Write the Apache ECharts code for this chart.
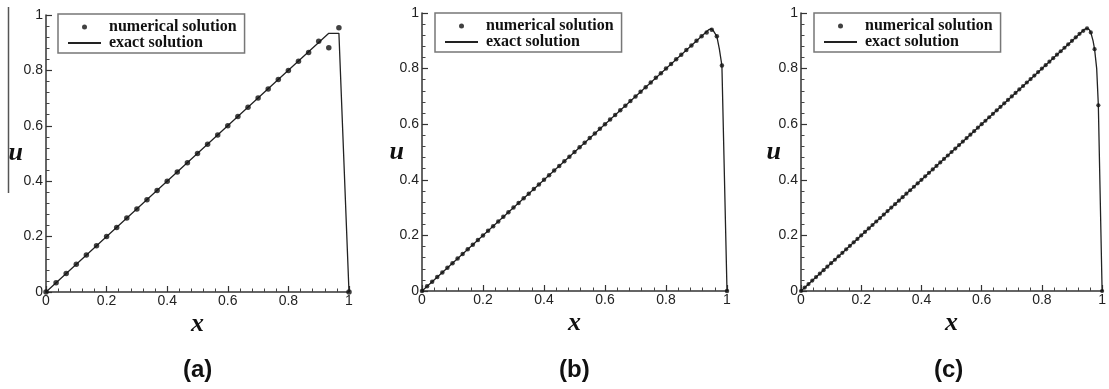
<!DOCTYPE html>
<html><head><meta charset="utf-8">
<script src="https://cdn.jsdelivr.net/npm/echarts@6/dist/echarts.min.js"></script>
<style>html,body{margin:0;padding:0;background:#fff}#c{width:1109px;height:389px}</style>
</head><body><div id="c"></div><script>
// ---- data ----
const panelLabels = ['(a)', '(b)', '(c)'];
const legendNames = ['numerical solution', 'exact solution'];

// panel (a): 30 cells
const aNumX = [0,0.0333,0.0667,0.1,0.1333,0.1667,0.2,0.2333,0.2667,0.3,0.3333,0.3667,0.4,0.4333,0.4667,0.5,0.5333,0.5667,0.6,0.6333,0.6667,0.7,0.7333,0.7667,0.8,0.8333,0.8667,0.9,0.9333,0.9667,1];
const aNumU = [0,0.0333,0.0667,0.1,0.1333,0.1667,0.2,0.2333,0.2667,0.3,0.3333,0.3667,0.4,0.4333,0.4667,0.5,0.5333,0.5667,0.6,0.6333,0.6667,0.7,0.7333,0.7667,0.8,0.8333,0.865,0.905,0.882,0.954,0];
const aExX = [0,0.9333,0.9667,1];
const aExU = [0,0.934,0.934,0];

// panel (b): 60 cells
const bNumX = [0,0.0167,0.0333,0.05,0.0667,0.0833,0.1,0.1167,0.1333,0.15,0.1667,0.1833,0.2,0.2167,0.2333,0.25,0.2667,0.2833,0.3,0.3167,0.3333,0.35,0.3667,0.3833,0.4,0.4167,0.4333,0.45,0.4667,0.4833,0.5,0.5167,0.5333,0.55,0.5667,0.5833,0.6,0.6167,0.6333,0.65,0.6667,0.6833,0.7,0.7167,0.7333,0.75,0.7667,0.7833,0.8,0.8167,0.8333,0.85,0.8667,0.8833,0.9,0.9167,0.9333,0.95,0.9667,0.9833,1];
const bNumU = [0,0.0167,0.0333,0.05,0.0667,0.0833,0.1,0.1167,0.1333,0.15,0.1667,0.1833,0.2,0.2167,0.2333,0.25,0.2667,0.2833,0.3,0.3167,0.3333,0.35,0.3667,0.3833,0.4,0.4167,0.4333,0.45,0.4667,0.4833,0.5,0.5167,0.5333,0.55,0.5667,0.5833,0.6,0.6167,0.6333,0.65,0.6667,0.6833,0.7,0.7167,0.7333,0.75,0.7667,0.7833,0.8,0.8167,0.8333,0.85,0.8667,0.8833,0.9,0.9167,0.93,0.94,0.916,0.811,0];
const bExX = [0,0.94,0.948,0.956,0.9667,0.975,0.9833,1];
const bExU = [0,0.94,0.943,0.935,0.916,0.87,0.811,0];

// panel (c): 80 cells
const cNumX = [0,0.0125,0.025,0.0375,0.05,0.0625,0.075,0.0875,0.1,0.1125,0.125,0.1375,0.15,0.1625,0.175,0.1875,0.2,0.2125,0.225,0.2375,0.25,0.2625,0.275,0.2875,0.3,0.3125,0.325,0.3375,0.35,0.3625,0.375,0.3875,0.4,0.4125,0.425,0.4375,0.45,0.4625,0.475,0.4875,0.5,0.5125,0.525,0.5375,0.55,0.5625,0.575,0.5875,0.6,0.6125,0.625,0.6375,0.65,0.6625,0.675,0.6875,0.7,0.7125,0.725,0.7375,0.75,0.7625,0.775,0.7875,0.8,0.8125,0.825,0.8375,0.85,0.8625,0.875,0.8875,0.9,0.9125,0.925,0.9375,0.95,0.9625,0.975,0.9875,1];
const cNumU = [0,0.0125,0.025,0.0375,0.05,0.0625,0.075,0.0875,0.1,0.1125,0.125,0.1375,0.15,0.1625,0.175,0.1875,0.2,0.2125,0.225,0.2375,0.25,0.2625,0.275,0.2875,0.3,0.3125,0.325,0.3375,0.35,0.3625,0.375,0.3875,0.4,0.4125,0.425,0.4375,0.45,0.4625,0.475,0.4875,0.5,0.5125,0.525,0.5375,0.55,0.5625,0.575,0.5875,0.6,0.6125,0.625,0.6375,0.65,0.6625,0.675,0.6875,0.7,0.7125,0.725,0.7375,0.75,0.7625,0.775,0.7875,0.8,0.8125,0.825,0.8375,0.85,0.8625,0.875,0.8875,0.9,0.9125,0.925,0.936,0.945,0.93,0.87,0.668,0];
const cExX = [0,0.94,0.95,0.9575,0.9625,0.97,0.975,0.982,0.9875,1];
const cExU = [0,0.94,0.945,0.94,0.93,0.9,0.87,0.8,0.668,0];

// ---- layout ----
const grids = [
  {left: 46, top: 15, width: 303, height: 277},
  {left: 422, top: 13, width: 305, height: 278},
  {left: 801, top: 13, width: 305, height: 278}
];
const uGap = [23, 18, 20];
const legendPos = [{left: 58, top: 14}, {left: 435, top: 13}, {left: 814, top: 13}];
const titleLeft = [183, 559, 934];
const dotSize = [5.5, 4.5, 4.2];

const numSets = [[aNumX, aNumU], [bNumX, bNumU], [cNumX, cNumU]];
const exSets = [[aExX, aExU], [bExX, bExU], [cExX, cExU]];
const zip = (xs, ys) => xs.map((x, i) => [x, ys[i]]);

const nameFont = {fontFamily: 'Liberation Serif', fontStyle: 'italic', fontWeight: 'bold', fontSize: 26, color: '#111'};
const axisCommon = {
  type: 'value', min: 0, max: 1, interval: 0.2,
  splitLine: {show: false},
  nameMoveOverlap: false,
  axisLine: {lineStyle: {color: '#333', width: 1.5}},
  axisTick: {inside: true, length: 6, lineStyle: {color: '#333', width: 1.2}},
  minorTick: {show: true, splitNumber: 5, length: 3.5, lineStyle: {color: '#444', width: 1}}
};
const labelCommon = {fontFamily: 'Liberation Sans', fontSize: 14, color: '#222'};

const option = {
  animation: false,
  backgroundColor: '#fff',
  grid: grids,
  xAxis: grids.map((g, i) => Object.assign({}, axisCommon, {
    gridIndex: i, name: 'x', nameLocation: 'middle', nameGap: 19,
    nameTextStyle: nameFont,
    axisLabel: Object.assign({margin: 2}, labelCommon)
  })),
  yAxis: grids.map((g, i) => Object.assign({}, axisCommon, {
    gridIndex: i, name: 'u', nameLocation: 'middle', nameRotate: 0, nameGap: uGap[i],
    nameTextStyle: Object.assign({padding: [8, 0, 0, 0]}, nameFont),
    axisLabel: Object.assign({margin: 3}, labelCommon)
  })),
  title: panelLabels.map((t, i) => ({
    text: t, left: titleLeft[i], top: 358, padding: 0,
    textStyle: {fontFamily: 'Liberation Sans', fontWeight: 'bold', fontSize: 24, color: '#111'}
  })),
  legend: legendPos.map(p => ({
    left: p.left, top: p.top, orient: 'vertical',
    itemWidth: 33, itemHeight: 5, itemGap: 0,
    padding: [5, 8, 2, 9],
    borderColor: '#777', borderWidth: 1.5,
    selectedMode: false,
    data: [{name: legendNames[0]}, {name: legendNames[1], itemStyle: {opacity: 0}}],
    textStyle: {fontFamily: 'Liberation Serif', fontWeight: 'bold', fontSize: 16, lineHeight: 16, color: '#111', padding: [0, 0, 0, 3]}
  })),
  graphic: [{type: 'line', shape: {x1: 8.5, y1: 7, x2: 8.5, y2: 193}, style: {stroke: '#555', lineWidth: 1.5}}],
  series: []
};

for (let i = 0; i < 3; i++) {
  option.series.push({
    type: 'line', name: legendNames[1], xAxisIndex: i, yAxisIndex: i,
    data: zip(exSets[i][0], exSets[i][1]), symbol: 'none',
    lineStyle: {color: '#222', width: 1.3}, itemStyle: {color: '#222'}, z: 2
  });
  option.series.push({
    type: 'scatter', name: legendNames[0], xAxisIndex: i, yAxisIndex: i,
    data: zip(numSets[i][0], numSets[i][1]), symbol: 'circle', symbolSize: dotSize[i],
    itemStyle: {color: '#111'}, z: 3
  });
}

const chart = echarts.init(document.getElementById('c'));
chart.setOption(option);
</script></body></html>
